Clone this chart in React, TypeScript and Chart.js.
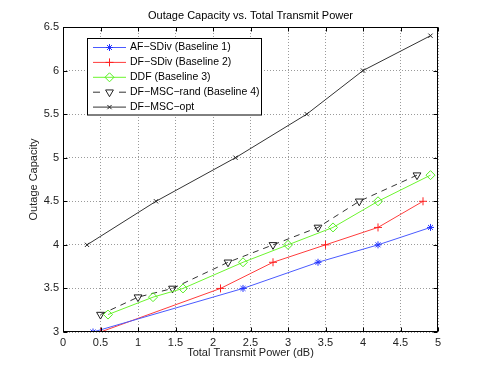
import React, { useEffect, useRef } from "react";
import { Chart, registerables } from "chart.js";
import { drawPoint } from "chart.js/helpers";
Chart.register(...registerables);

const TITLE = "Outage Capacity vs. Total Transmit Power";
const X_TITLE = "Total Transmit Power (dB)";
const Y_TITLE = "Outage Capacity";
const xTicks = [0, 0.5, 1, 1.5, 2, 2.5, 3, 3.5, 4, 4.5, 5];
const yTicks = [3, 3.5, 4, 4.5, 5, 5.5, 6, 6.5];

const labels = [
  "AF\u2212SDiv (Baseline 1)",
  "DF\u2212SDiv (Baseline 2)",
  "DDF (Baseline 3)",
  "DF\u2212MSC\u2212rand (Baseline 4)",
  "DF\u2212MSC\u2212opt",
];

const afX = [0.4, 2.4, 3.4, 4.2, 4.9];
const afY = [3.0, 3.5, 3.8, 4.0, 4.2];
const dfX = [0.5, 2.1, 2.8, 3.5, 4.2, 4.8];
const dfY = [3.0, 3.5, 3.8, 4.0, 4.2, 4.5];
const ddfX = [0.6, 1.2, 1.6, 2.4, 3.0, 3.6, 4.2, 4.9];
const ddfY = [3.2, 3.4, 3.5, 3.8, 4.0, 4.2, 4.5, 4.8];
const randX = [0.5, 1.0, 1.46, 2.2, 2.8, 3.4, 3.95, 4.72];
const randY = [3.2, 3.4, 3.5, 3.8, 4.0, 4.2, 4.5, 4.8];
const optX = [0.32, 1.24, 2.3, 3.25, 4.0, 4.9];
const optY = [4.0, 4.5, 5.0, 5.5, 6.0, 6.4];

const FONT = "'Liberation Sans', Arial, Helvetica, sans-serif";

const pts = (xs: number[], ys: number[]) => xs.map((x, i) => ({ x, y: ys[i] }));

const framePlugin = {
  id: "frame",
  afterDatasetsDraw(chart: any) {
    const { ctx, chartArea: a, scales } = chart;
    ctx.save();
    ctx.strokeStyle = "#000";
    ctx.lineWidth = 1;
    ctx.setLineDash([]);
    const L = Math.round(a.left) + 0.5, R = Math.round(a.right) - 0.5;
    const T = Math.round(a.top) + 0.5, B = Math.round(a.bottom) - 0.5;
    ctx.strokeRect(L, T, R - L, B - T);
    const tl = 4;
    ctx.beginPath();
    xTicks.forEach((v) => {
      const px = Math.round(scales.x.getPixelForValue(v)) + 0.5;
      ctx.moveTo(px, B); ctx.lineTo(px, B - tl);
      ctx.moveTo(px, T); ctx.lineTo(px, T + tl);
    });
    yTicks.forEach((v) => {
      const py = Math.round(scales.y.getPixelForValue(v)) + 0.5;
      ctx.moveTo(L, py); ctx.lineTo(L + tl, py);
      ctx.moveTo(R, py); ctx.lineTo(R - tl, py);
    });
    ctx.stroke();
    ctx.restore();
  },
  afterDraw(chart: any) {
    const { ctx, chartArea: a } = chart;
    ctx.save();
    // title
    ctx.fillStyle = "#000";
    ctx.font = `11px ${FONT}`;
    ctx.textAlign = "center";
    ctx.textBaseline = "middle";
    ctx.fillText(TITLE, (a.left + a.right) / 2, 16);
    // legend
    const bx = 87.5, by = 38.5, bw = 174, bh = 76.5;
    ctx.fillStyle = "#fff";
    ctx.fillRect(bx, by, bw, bh);
    ctx.strokeStyle = "#000";
    ctx.lineWidth = 1;
    ctx.strokeRect(bx, by, bw, bh);
    chart.data.datasets.forEach((ds: any, i: number) => {
      const y = 47.5 + i * 14.9;
      ctx.save();
      ctx.strokeStyle = ds.borderColor;
      ctx.lineWidth = 1;
      ctx.setLineDash(ds.borderDash && ds.borderDash.length ? [7, 19] : []);
      ctx.beginPath();
      ctx.moveTo(93, y);
      ctx.lineTo(126, y);
      ctx.stroke();
      ctx.restore();
      ctx.save();
      ctx.strokeStyle = ds.pointBorderColor;
      ctx.fillStyle = "rgba(0,0,0,0)";
      ctx.lineWidth = 1;
      drawPoint(ctx, { pointStyle: ds.pointStyle, radius: ds.pointRadius, rotation: ds.pointRotation || 0, borderWidth: 1 }, 109.5, y);
      ctx.restore();
      ctx.fillStyle = "#000";
      ctx.font = `10.5px ${FONT}`;
      ctx.textAlign = "left";
      ctx.textBaseline = "middle";
      ctx.fillText(ds.label, 130, y);
    });
    ctx.restore();
  },
};

export default function App() {
  const ref = useRef<HTMLCanvasElement>(null);
  useEffect(() => {
    if (!ref.current) return;
    const mk = (label: string, data: any, color: string, mcolor: string, style: string, r: number, extra: any = {}) => ({
      label,
      data,
      borderColor: color,
      backgroundColor: "rgba(0,0,0,0)",
      pointBorderColor: mcolor,
      pointBackgroundColor: "rgba(0,0,0,0)",
      pointStyle: style,
      pointRadius: r,
      pointBorderWidth: 1,
      borderWidth: 1,
      showLine: true,
      tension: 0,
      ...extra,
    });
    const chart = new Chart(ref.current, {
      type: "scatter",
      data: {
        datasets: [
          mk(labels[0], pts(afX, afY), "#4a5aff", "#2233ff", "star", 3.5),
          mk(labels[1], pts(dfX, dfY), "#ff3c3c", "#ff2020", "cross", 4),
          mk(labels[2], pts(ddfX, ddfY), "#6cf52e", "#55ee22", "rectRot", 4.5),
          mk(labels[3], pts(randX, randY), "#333333", "#222222", "triangle", 4.5, { borderDash: [6, 5], pointRotation: 180 }),
          mk(labels[4], pts(optX, optY), "#333333", "#222222", "crossRot", 3),
        ],
      },
      options: {
        responsive: false,
        animation: false,
        events: [],
        layout: { padding: { left: 0, top: 27, right: 47, bottom: 0 } },
        plugins: { legend: { display: false }, tooltip: { enabled: false }, title: { display: false } },
        scales: {
          x: {
            type: "linear",
            min: 0,
            max: 5,
            afterBuildTicks: (s: any) => { s.ticks = xTicks.map((v) => ({ value: v })); },
            afterFit: (s: any) => { s.height = 41; },
            ticks: {
              padding: 4,
              color: "#222",
              font: { family: FONT, size: 11 },
              maxRotation: 0,
              autoSkip: false,
              callback: (v: any) => String(v),
            },
            grid: { drawTicks: false, color: "#9a9a9a", lineWidth: 1 },
            border: { display: false, dash: [1, 2] },
            title: { display: true, text: X_TITLE, color: "#222", font: { family: FONT, size: 11 }, padding: { top: 0, bottom: 13.5 } },
          },
          y: {
            type: "linear",
            min: 3,
            max: 6.5,
            afterBuildTicks: (s: any) => { s.ticks = yTicks.map((v) => ({ value: v })); },
            afterFit: (s: any) => { s.width = 63; },
            ticks: {
              padding: 4,
              color: "#222",
              font: { family: FONT, size: 11 },
              autoSkip: false,
              callback: (v: any) => String(v),
            },
            grid: { drawTicks: false, color: "#9a9a9a", lineWidth: 1 },
            border: { display: false, dash: [1, 2] },
            title: { display: true, text: Y_TITLE, color: "#222", font: { family: FONT, size: 11 }, padding: { top: 27, bottom: 0 } },
          },
        },
      },
      plugins: [framePlugin],
    } as any);
    return () => chart.destroy();
  }, []);
  return (
    <div style={{ position: "absolute", left: 0, top: 0, width: 485, height: 373, background: "#fff" }}>
      <canvas ref={ref} width={485} height={373} style={{ display: "block" }} />
    </div>
  );
}
